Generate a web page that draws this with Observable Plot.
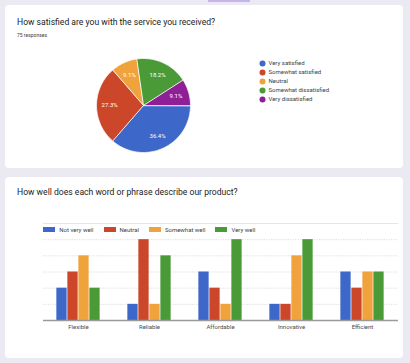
<!DOCTYPE html>
<html><head><meta charset="utf-8">
<script src="https://cdn.jsdelivr.net/npm/d3@7"></script>
<script src="https://cdn.jsdelivr.net/npm/@observablehq/plot@0.6"></script>
<style>
body{margin:0;background:#ebe9f2;width:410px;height:363px;overflow:hidden;position:relative;font-family:Roboto,sans-serif;}
.card{position:absolute;left:5px;width:398px;background:#fff;border-radius:4px;}
#c1{top:5px;height:163px}
#c2{top:177px;height:181px}
.title{position:absolute;left:12px;font-size:8.6px;color:#202124;white-space:nowrap;line-height:10px}
.sub{position:absolute;left:12px;font-size:5px;color:#3c4043;line-height:6px;white-space:nowrap}
.tab{position:absolute;left:208px;top:0;width:42px;height:1.5px;background:#c7b3ee}
.abs{position:absolute}
.bl-swatches-wrap{min-height:0 !important}
.bl-swatches-wrap .bl-swatch{margin-right:10px !important}
.bl-swatch > svg{margin-right:4px !important}
</style></head><body>
<div class="tab"></div>
<div class="card" id="c1">
  <div class="title" style="top:11.7px">How satisfied are you with the service you received?</div>
  <div class="sub" style="top:27px">75 responses</div>
  <div class="abs" id="pie" style="left:89.7px;top:52px"></div>
  <div class="abs" id="pieLegend" style="left:253.7px;top:51px"></div>
</div>
<div class="card" id="c2">
  <div class="title" style="top:10px">How well does each word or phrase describe our product?</div>
  <div class="abs" id="barLegend" style="left:38.3px;top:48.5px"></div>
  <div class="abs" id="bars" style="left:0px;top:38px"></div>
</div>
<script>
// ---- Data ----
const satisfactionLabels = ["Very satisfied", "Somewhat satisfied", "Neutral", "Somewhat dissatisfied", "Very dissatisfied"];
const satisfactionPct = [36.4, 27.3, 9.1, 18.2, 9.1];
const pieColors = ["#3d68c9", "#cc4729", "#f0a23c", "#4a9b37", "#8f1f97"];

const words = ["Flexible", "Reliable", "Affordable", "Innovative", "Efficient"];
const ratingLevels = ["Not very well", "Neutral", "Somewhat well", "Very well"];
const notVeryWell = [2, 1, 3, 1, 3];
const neutral = [3, 5, 2, 1, 2];
const somewhatWell = [4, 1, 1, 4, 3];
const veryWell = [2, 4, 5, 5, 3];
const barColors = ["#3d68c9", "#cc4729", "#f0a23c", "#4a9b37"];
const gridTicks = [1, 2, 3, 4, 5];
const topTick = [6];

// ---- Pie ----
const pieRows = satisfactionLabels.map((label, i) => ({label, pct: satisfactionPct[i]}));
const arcs = d3.pie().sort(null).value(d => d.pct)
  .startAngle(Math.PI / 2).endAngle(Math.PI / 2 + 2 * Math.PI)(pieRows);
const slicePts = [];
for (const a of arcs) {
  slicePts.push({key: a.data.label, x: 0, y: 0});
  const n = Math.max(2, Math.ceil((a.endAngle - a.startAngle) / 0.02));
  for (let k = 0; k <= n; k++) {
    const t = a.startAngle + (a.endAngle - a.startAngle) * k / n;
    slicePts.push({key: a.data.label, x: Math.sin(t), y: Math.cos(t)});
  }
}
const mid = a => (a.startAngle + a.endAngle) / 2;
const pie = Plot.plot({
  width: 96, height: 96, margin: 1,
  x: {domain: [-1, 1], axis: null},
  y: {domain: [-1, 1], axis: null},
  color: {domain: satisfactionLabels, range: pieColors},
  style: {fontFamily: "Roboto, sans-serif", background: "transparent", overflow: "visible"},
  marks: [
    Plot.line(slicePts, {x: "x", y: "y", z: "key", fill: "key", stroke: "white", strokeWidth: 0.8, curve: "linear-closed"}),
    Plot.text(arcs, {x: a => 0.72 * Math.sin(mid(a)), y: a => 0.72 * Math.cos(mid(a)),
      text: a => a.data.pct.toFixed(1) + "%", fill: "white", fontSize: 6})
  ]
});
document.getElementById("pie").append(pie);

const pieLegend = Plot.plot({
  width: 140, height: 50, marginTop: 5, marginBottom: 6, marginLeft: 0, marginRight: 0,
  x: {axis: null},
  y: {type: "point", domain: satisfactionLabels, padding: 0, axis: null},
  color: {domain: satisfactionLabels, range: pieColors},
  style: {fontFamily: "Roboto, sans-serif", background: "transparent", overflow: "visible"},
  marks: [
    Plot.dot(satisfactionLabels, {y: d => d, fill: d => d, r: 3, frameAnchor: "left", dx: 3}),
    Plot.text(satisfactionLabels, {y: d => d, text: d => d, frameAnchor: "left", dx: 9, textAnchor: "start", fill: "#3c4043", fontSize: 6})
  ]
});
document.getElementById("pieLegend").append(pieLegend);

// ---- Bars ----
const series = [notVeryWell, neutral, somewhatWell, veryWell];
const rows = words.flatMap((w, j) => ratingLevels.map((level, i) => ({word: w, level, value: series[i][j]})));
const plotW = 398, mL = 38, mR = 5, pIn = 0.38, pOut = 0.19;
const step = (plotW - mL - mR) / (words.length - pIn + 2 * pOut);
const sub = step * (1 - pIn) / ratingLevels.length;
const bars = Plot.plot({
  width: plotW, height: 125, marginLeft: mL, marginRight: mR, marginTop: 8, marginBottom: 20,
  x: {type: "band", domain: words, paddingInner: pIn, paddingOuter: pOut, tickSize: 0, tickPadding: 4, label: null},
  y: {domain: [0, 6], axis: null},
  color: {domain: ratingLevels, range: barColors},
  style: {fontFamily: "Roboto, sans-serif", fontSize: "6px", color: "#4a4a4a", background: "transparent", overflow: "visible"},
  marks: [
    Plot.ruleY(gridTicks, {stroke: "#d6d6d6", strokeWidth: 0.8, strokeDasharray: "1.2,1.2"}),
    Plot.ruleY(topTick, {stroke: "#e2e2e2", strokeWidth: 0.9}),
    ...ratingLevels.map((lev, i) => Plot.barY(rows.filter(r => r.level === lev), {
      x: "word", y: "value", fill: "level",
      insetLeft: i * sub + 0.35, insetRight: (ratingLevels.length - 1 - i) * sub + 0.35
    })),
    Plot.ruleY([0], {stroke: "#9a9a9a", strokeWidth: 1.3})
  ]
});
document.getElementById("bars").append(bars);

const barLegend = Plot.legend({
  color: {domain: ratingLevels, range: barColors},
  legend: "swatches", swatchWidth: 12, swatchHeight: 5, className: "bl",
  style: {fontSize: "6px", fontFamily: "Roboto, sans-serif", color: "#3c4043", margin: 0}
});
document.getElementById("barLegend").append(barLegend);
</script>
</body></html>
